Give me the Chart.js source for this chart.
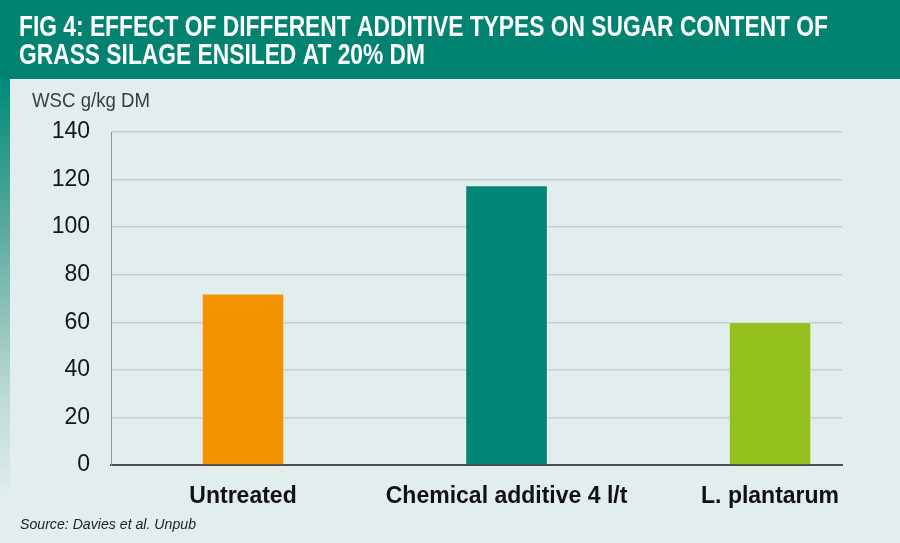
<!DOCTYPE html>
<html>
<head>
<meta charset="utf-8">
<script src="https://cdn.jsdelivr.net/npm/chart.js@4"></script>
<style>
html,body{margin:0;padding:0;background:#e2eeed;}
#wrap{width:900px;height:543px;position:relative;}
</style>
</head>
<body>
<div id="wrap"><canvas id="c" width="900" height="543"></canvas></div>
<script>
const titleLines = ["FIG 4: EFFECT OF DIFFERENT ADDITIVE TYPES ON SUGAR CONTENT OF", "GRASS SILAGE ENSILED AT 20% DM"];
const yAxisTitle = "WSC g/kg DM";
const sourceText = "Source: Davies et al. Unpub";
const categories = ["Untreated", "Chemical additive 4 l/t", "L. plantarum"];
const wscValues = [72, 117.5, 60];
const barColors = ["#f39200", "#008676", "#95c11f"];
const yTicks = [0, 20, 40, 60, 80, 100, 120, 140];

const COND = "'Liberation Sans', Arial, sans-serif";

const decor = {
  id: 'decor',
  beforeDraw(chart) {
    const ctx = chart.ctx;
    ctx.save();
    ctx.fillStyle = '#e2eeed';
    ctx.fillRect(0, 0, 900, 543);
    ctx.fillStyle = '#008270';
    ctx.fillRect(0, 0, 900, 79);
    const g = ctx.createLinearGradient(0, 79, 0, 500);
    g.addColorStop(0, '#008a77');
    g.addColorStop(0.35, '#5aa99c');
    g.addColorStop(0.75, '#bcdad5');
    g.addColorStop(1, '#e2eeed');
    ctx.fillStyle = g;
    ctx.fillRect(0, 79, 10, 464);
    ctx.fillStyle = '#eef6f5';
    ctx.fillRect(10, 79, 890, 1);
    ctx.restore();
  },
  afterDraw(chart) {
    const ctx = chart.ctx;
    ctx.save();
    ctx.fillStyle = '#ffffff';
    ctx.font = "bold 30px " + COND;
    ctx.textBaseline = 'alphabetic';
    ctx.textAlign = 'left';
    const w1 = ctx.measureText(titleLines[0]).width;
    const s = 809 / w1;
    [36, 64].forEach((y, i) => {
      ctx.save();
      ctx.translate(19, y);
      ctx.scale(s, 1);
      ctx.fillText(titleLines[i], 0, 0);
      ctx.restore();
    });
    ctx.fillStyle = '#3c3c3c';
    ctx.font = "21px " + COND;
    const wy = ctx.measureText(yAxisTitle).width;
    ctx.save();
    ctx.translate(32, 107);
    ctx.scale(118 / wy, 1);
    ctx.fillText(yAxisTitle, 0, 0);
    ctx.restore();
    ctx.fillStyle = '#222222';
    ctx.font = "italic 15px " + COND;
    const ws = ctx.measureText(sourceText).width;
    ctx.save();
    ctx.translate(20, 529);
    ctx.scale(Math.min(1, 176 / ws), 1);
    ctx.fillText(sourceText, 0, 0);
    ctx.restore();
    ctx.restore();
  }
};

const data = {
  datasets: [{
    data: categories.map((c, i) => ({ x: i, y: wscValues[i] })),
    backgroundColor: barColors,
    borderColor: 'rgba(255,255,255,0.35)',
    borderWidth: 1,
    barThickness: 82
  }]
};

new Chart(document.getElementById('c'), {
  type: 'bar',
  data: data,
  plugins: [decor],
  options: {
    responsive: false,
    animation: false,
    layout: { padding: { left: 0, right: 58, top: 132, bottom: 0 } },
    plugins: { legend: { display: false }, tooltip: { enabled: false } },
    scales: {
      x: {
        type: 'linear',
        offset: false,
        min: -0.501,
        max: 2.273,
        afterFit(scale) { scale.height = 78; },
        afterBuildTicks(scale) { scale.ticks = categories.map((c, i) => ({ value: i })); },
        grid: { display: false, drawTicks: false, offset: false },
        border: { display: true, color: '#4d4d4d', width: 2 },
        ticks: {
          callback: (v) => categories[v] !== undefined ? categories[v] : '',
          color: '#111111',
          font: { family: COND, size: 23, weight: 'bold' },
          padding: 18,
          maxRotation: 0,
          autoSkip: false
        }
      },
      y: {
        min: 0,
        max: 140,
        afterFit(scale) { scale.width = 111; },
        afterBuildTicks(scale) { scale.ticks = yTicks.map(v => ({ value: v })); },
        grid: {
          drawTicks: false,
          color: (c) => c.tick && c.tick.value === 0 ? 'rgba(0,0,0,0)' : '#c6cdcc',
          lineWidth: 1.5
        },
        border: { display: true, color: '#8f9594', width: 1 },
        ticks: {
          color: '#151515',
          font: { family: COND, size: 23 },
          padding: 21
        }
      }
    }
  }
});
</script>
</body>
</html>
